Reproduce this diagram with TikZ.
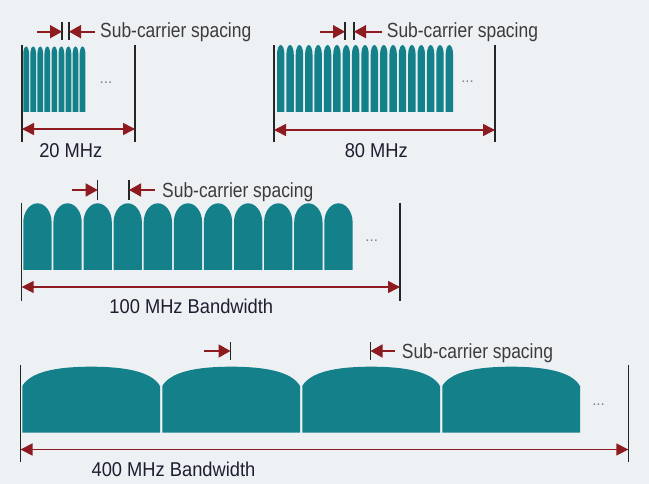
\documentclass[tikz,border=0pt]{standalone}
\usepackage{fontspec}
\setmainfont{Liberation Sans}
\newfontfamily\subfont{Liberation Sans}[FakeStretch=0.85]
\newfontfamily\labfont{Liberation Sans}[FakeStretch=0.915]
\usetikzlibrary{arrows.meta}
\definecolor{bg}{HTML}{EDF1F4}
\definecolor{tealbar}{HTML}{13808A}
\definecolor{arrred}{HTML}{8E1B1F}
\definecolor{labcol}{HTML}{1E1E30}
\definecolor{subcol}{HTML}{3C3C3C}
\tikzset{
 dimone/.style={draw=arrred, line width=1.8pt, -{Triangle[length=12pt,width=13pt]}},
 dimboth/.style={draw=arrred, line width=1.6pt, {Triangle[length=12pt,width=12pt]}-{Triangle[length=12pt,width=12pt]}},
 bwline/.style={draw=black!85, line width=1.4pt},
 tickmark/.style={draw=black!85, line width=1.4pt},
 carrier/.style={fill=tealbar, draw=none},
 subtext/.style={font=\subfont\fontsize{20.5}{24}\selectfont, text=subcol, anchor=base west, inner sep=0pt},
 labtext/.style={font=\labfont\fontsize{20}{23}\selectfont, text=labcol, anchor=base, inner sep=0pt},
 dotstext/.style={font=\fontsize{15}{17}\selectfont, text=black!50, anchor=base, inner sep=0pt}
}
% x, w, top, ry, bottom
\newcommand\archbar[5]{%
 \pgfmathsetmacro\ax{#1}%
 \pgfmathsetmacro\axw{#1+#2}%
 \pgfmathsetmacro\acx{#1+#2/2}%
 \pgfmathsetmacro\axl{#1+#2/2-0.552*#2/2}%
 \pgfmathsetmacro\axr{#1+#2/2+0.552*#2/2}%
 \pgfmathsetmacro\ay{#3+#4}%
 \pgfmathsetmacro\ayc{#3+0.448*#4}%
 \fill[carrier] (\ax,#5) -- (\ax,\ay) .. controls (\ax,\ayc) and (\axl,#3) .. (\acx,#3)
   .. controls (\axr,#3) and (\axw,\ayc) .. (\axw,\ay) -- (\axw,#5) -- cycle;}
% x, w, top, side, bottom
\newcommand\widebar[5]{%
 \pgfmathsetmacro\ax{#1}%
 \pgfmathsetmacro\axw{#1+#2}%
 \pgfmathsetmacro\acx{#1+#2/2}%
 \pgfmathsetmacro\aca{#1+0.06*#2}%
 \pgfmathsetmacro\acb{#1+0.25*#2}%
 \pgfmathsetmacro\acc{#1+0.75*#2}%
 \pgfmathsetmacro\acd{#1+0.94*#2}%
 \pgfmathsetmacro\ayc{#3+5}%
 \fill[carrier] (\ax,#5) -- (\ax,#4) .. controls (\aca,\ayc) and (\acb,#3) .. (\acx,#3)
   .. controls (\acc,#3) and (\acd,\ayc) .. (\axw,#4) -- (\axw,#5) -- cycle;}
\begin{document}
\begin{tikzpicture}[x=1pt,y=-1pt]
\useasboundingbox (0,0) rectangle (649,484);
\fill[bg] (0,0) rectangle (649,484);

% ---------------- Panel 1: 20 MHz ----------------
\foreach \i in {0,...,8} { \archbar{23.3+7.05*\i}{5.7}{46.5}{7.5}{112} }
\coordinate (p1lt) at (22,45); \coordinate (p1lb) at (22,142);
\coordinate (p1rt) at (135,45); \coordinate (p1rb) at (135,142);
\draw[bwline] (p1lt) -- (p1lb);
\draw[bwline] (p1rt) -- (p1rb);
\coordinate (p1al) at (22,129); \coordinate (p1ar) at (135,129);
\draw[dimboth] (p1al) -- (p1ar);
\node[labtext] (lab20) at (70.8,158) {20 MHz};
\node[dotstext] (dots1) at (106,84) {...};
\coordinate (s1at) at (62,22); \coordinate (s1ab) at (62,40);
\coordinate (s1bt) at (69,22); \coordinate (s1bb) at (69,40);
\draw[tickmark] (s1at) -- (s1ab);
\draw[tickmark] (s1bt) -- (s1bb);
\coordinate (s1l) at (37,31.7); \coordinate (s1lt) at (62,31.7);
\coordinate (s1r) at (95,31.7); \coordinate (s1rt) at (69,31.7);
\draw[dimone] (s1l) -- (s1lt);
\draw[dimone] (s1r) -- (s1rt);
\node[subtext] (sub1) at (100,37.5) {Sub-carrier spacing};

% ---------------- Panel 2: 80 MHz ----------------
\foreach \i in {0,...,18} { \archbar{277+9.37*\i}{7.4}{45}{9.5}{112} }
\coordinate (p2lt) at (274,45); \coordinate (p2lb) at (274,142.5);
\coordinate (p2rt) at (495,45); \coordinate (p2rb) at (495,142.5);
\draw[bwline] (p2lt) -- (p2lb);
\draw[bwline] (p2rt) -- (p2rb);
\coordinate (p2al) at (274,130); \coordinate (p2ar) at (495,130);
\draw[dimboth] (p2al) -- (p2ar);
\node[labtext] (lab80) at (376.3,157.5) {80 MHz};
\node[dotstext] (dots2) at (467.5,83) {...};
\coordinate (s2at) at (345,22); \coordinate (s2ab) at (345,40);
\coordinate (s2bt) at (354,22); \coordinate (s2bb) at (354,40);
\draw[tickmark] (s2at) -- (s2ab);
\draw[tickmark] (s2bt) -- (s2bb);
\coordinate (s2l) at (320,31.7); \coordinate (s2lt) at (345,31.7);
\coordinate (s2r) at (381.7,31.7); \coordinate (s2rt) at (354,31.7);
\draw[dimone] (s2l) -- (s2lt);
\draw[dimone] (s2r) -- (s2rt);
\node[subtext] (sub2) at (386.7,37.5) {Sub-carrier spacing};

% ---------------- Panel 3: 100 MHz ----------------
\foreach \i in {0,...,10} { \archbar{23.3+30.1*\i}{28.3}{203.3}{19}{270} }
\coordinate (p3lt) at (21.7,203); \coordinate (p3lb) at (21.7,300.7);
\coordinate (p3rt) at (400,203); \coordinate (p3rb) at (400,300.7);
\draw[bwline] (p3lt) -- (p3lb);
\draw[bwline] (p3rt) -- (p3rb);
\coordinate (p3al) at (21.7,287); \coordinate (p3ar) at (400,287);
\draw[dimboth] (p3al) -- (p3ar);
\node[labtext] (lab100) at (191.3,314) {100 MHz Bandwidth};
\node[dotstext] (dots3) at (371.7,241.5) {...};
\coordinate (s3at) at (97.7,180); \coordinate (s3ab) at (97.7,200);
\coordinate (s3bt) at (129,180); \coordinate (s3bb) at (129,200);
\draw[tickmark] (s3at) -- (s3ab);
\draw[tickmark] (s3bt) -- (s3bb);
\coordinate (s3l) at (72,190); \coordinate (s3lt) at (97.7,190);
\coordinate (s3r) at (155,190); \coordinate (s3rt) at (129,190);
\draw[dimone] (s3l) -- (s3lt);
\draw[dimone] (s3r) -- (s3rt);
\node[subtext] (sub3) at (162,197.7) {Sub-carrier spacing};

% ---------------- Panel 4: 400 MHz ----------------
\foreach \i in {0,...,3} { \widebar{22.3+140*\i}{137.7}{366.7}{386}{432.7} }
\coordinate (p4lt) at (20.5,365); \coordinate (p4lb) at (20.5,462);
\coordinate (p4rt) at (628.3,365); \coordinate (p4rb) at (628.3,462);
\draw[bwline] (p4lt) -- (p4lb);
\draw[bwline] (p4rt) -- (p4rb);
\coordinate (p4al) at (20.5,449.5); \coordinate (p4ar) at (628.3,449.5);
\draw[dimboth] (p4al) -- (p4ar);
\node[labtext] (lab400) at (173.5,476) {400 MHz Bandwidth};
\node[dotstext] (dots4) at (598.5,405) {...};
\coordinate (s4at) at (230.5,342); \coordinate (s4ab) at (230.5,360);
\coordinate (s4bt) at (370.5,342); \coordinate (s4bb) at (370.5,360);
\draw[tickmark] (s4at) -- (s4ab);
\draw[tickmark] (s4bt) -- (s4bb);
\coordinate (s4l) at (204,351); \coordinate (s4lt) at (230.5,351);
\coordinate (s4r) at (395,351); \coordinate (s4rt) at (370.5,351);
\draw[dimone] (s4l) -- (s4lt);
\draw[dimone] (s4r) -- (s4rt);
\node[subtext] (sub4) at (401.7,358.3) {Sub-carrier spacing};
\end{tikzpicture}
\end{document}
